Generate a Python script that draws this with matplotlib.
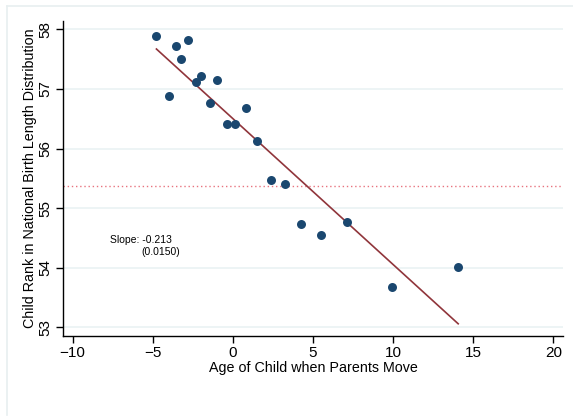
import numpy as np
import matplotlib
matplotlib.use('Agg')
import matplotlib.pyplot as plt
from matplotlib.lines import Line2D

plt.rcParams['font.family'] = ['Liberation Sans', 'DejaVu Sans']

# binned means: age of child at move vs. child rank
age = [-4.77, -3.97, -3.52, -3.23, -2.77, -2.31, -1.98, -1.43, -0.96, -0.36,
       0.14, 0.81, 1.53, 2.37, 3.28, 4.28, 5.49, 7.13, 9.94, 14.06]
rank = [57.89, 56.88, 57.72, 57.51, 57.82, 57.12, 57.22, 56.76, 57.15, 56.41,
        56.41, 56.68, 56.13, 55.48, 55.40, 54.73, 54.55, 54.77, 53.67, 54.01]

# fitted line end points
fit_x = [-4.77, 14.06]
fit_y = [57.67, 53.06]

ref_level = 55.37
x_ticks = [-10, -5, 0, 5, 10, 15, 20]
y_ticks = [53, 54, 55, 56, 57, 58]
slope_txt = 'Slope: -0.213'
se_txt = '(0.0150)'

fig = plt.figure(figsize=(5.73, 4.17), dpi=100)
fig.patch.set_facecolor('white')
# light outer frame (top and left edges)
fig.add_artist(Line2D([7/573, 7/573], [1 - 415/417, 1 - 6/417], color='#e8eff0', lw=1.2,
                      transform=fig.transFigure))
fig.add_artist(Line2D([7/573, 1.0], [1 - 6/417, 1 - 6/417], color='#e8eff0', lw=1.2,
                      transform=fig.transFigure))

ax = fig.add_axes([63/573, 1 - 336/417, 500/573, 315/417])
ax.set_xlim(-10.6, 20.6)
ax.set_ylim(52.855, 58.14)

for yv in y_ticks:
    ax.axhline(yv, color='#eaf2f3', lw=1.2, zorder=0)

ax.axhline(ref_level, color='#e8737f', lw=1, ls=(0, (1, 2)), zorder=1)
ax.plot(fit_x, fit_y, color='#90353b', lw=1.2, zorder=2)
ax.scatter(age, rank, s=42, color='#1a476f', zorder=3, linewidths=0)

ax.text(-7.65, 54.46, slope_txt, fontsize=7.5, va='center', ha='left')
ax.text(-5.7, 54.26, se_txt, fontsize=7.5, va='center', ha='left')

ax.set_xticks(x_ticks)
ax.set_yticks(y_ticks)
ax.set_yticklabels([str(v) for v in y_ticks], rotation=90, va='center')
ax.tick_params(labelsize=11, length=5, width=1, color='black', pad=2.5)
ax.spines['top'].set_visible(False)
ax.spines['right'].set_visible(False)
ax.spines['left'].set_linewidth(1)
ax.spines['bottom'].set_linewidth(1)

ax.set_xlabel('Age of Child when Parents Move', fontsize=10.3, labelpad=0.5)
ax.set_ylabel('Child Rank in National Birth Length Distribution', fontsize=10.3, labelpad=1)

fig.savefig('out.png', dpi=100)
